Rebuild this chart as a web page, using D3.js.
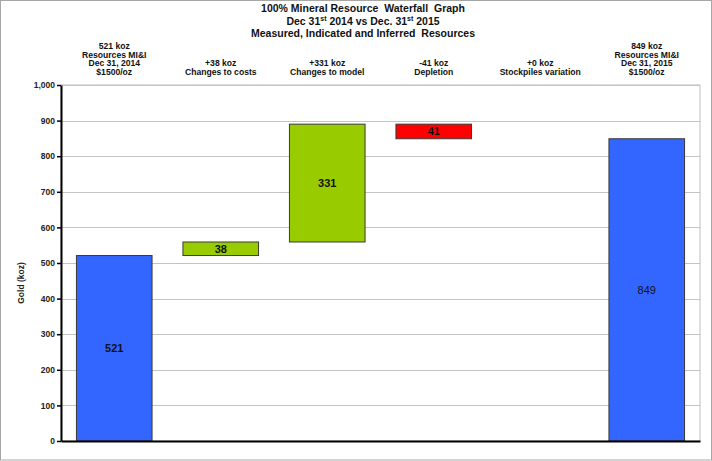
<!DOCTYPE html>
<html><head><meta charset="utf-8">
<script src="https://cdn.jsdelivr.net/npm/d3@7"></script>
<style>
body{margin:0;background:#fff;}
svg{display:block;}
text{font-family:"Liberation Sans",Arial,sans-serif;}
</style></head>
<body>
<svg id="c" width="712" height="461"></svg>
<script>
const titleLines = ["100% Mineral Resource  Waterfall  Graph", "Dec 31st 2014 vs Dec. 31st 2015", "Measured, Indicated and Inferred  Resources"];
const categories = ["start","costs","model","depletion","stockpiles","end"];
const categoryLabels = [
  ["521 koz","Resources MI&I","Dec 31, 2014","$1500/oz"],
  ["+38 koz","Changes to costs"],
  ["+331 koz","Changes to model"],
  ["-41 koz","Depletion"],
  ["+0 koz","Stockpiles variation"],
  ["849 koz","Resources MI&I","Dec 31, 2015","$1500/oz"]
];
const barTypes = ["total","change","change","change","change","total"];
const values = [521, 38, 331, -41, 0, 849];
const yTicks = [0,100,200,300,400,500,600,700,800,900,1000];
const yLabel = "Gold (koz)";

const svg = d3.select("#c");
const W = 712, H = 461;
const m = {left:61, right:700, top:85, bottom:441};

svg.append("rect").attr("x",0.5).attr("y",0.5).attr("width",W-1).attr("height",H-1.5)
  .attr("fill","#fff").attr("stroke","#a6a6a6");

const x = d3.scaleBand().domain(categories).range([m.left, m.right]).paddingInner(0.29).paddingOuter(0.145);
const y = d3.scaleLinear().domain([0,1000]).range([m.bottom, m.top]);

svg.append("rect").attr("x",m.left).attr("y",m.top).attr("width",m.right-m.left).attr("height",m.bottom-m.top)
  .attr("fill","none").attr("stroke","#bfbfbf");

svg.append("g").selectAll("line").data(yTicks.filter(d=>d>0)).join("line")
  .attr("x1",m.left).attr("x2",m.right).attr("y1",d=>Math.round(y(d))+0.5).attr("y2",d=>Math.round(y(d))+0.5)
  .attr("stroke","#c4c4c4").attr("stroke-width",1.2);

let run = 0;
const bars = values.map((v,i)=>{
  let lo, hi;
  if (barTypes[i]==="total"){ lo=0; hi=v; run=v; }
  else { const s=run; run=run+v; lo=Math.min(s,run); hi=Math.max(s,run); }
  return {cat:categories[i], v, lo, hi, type:barTypes[i]};
});
const color = b => b.type==="total" ? "#3366ff" : (b.v>=0 ? "#99cc00" : "#ff0000");

svg.append("g").selectAll("rect").data(bars.filter(b=>b.hi>b.lo)).join("rect")
  .attr("x",b=>x(b.cat)).attr("width",x.bandwidth())
  .attr("y",b=>y(b.hi)).attr("height",b=>y(b.lo)-y(b.hi))
  .attr("fill",color).attr("stroke","#3a3a3a").attr("stroke-width",1);

svg.append("g").selectAll("text").data(bars.filter(b=>b.hi>b.lo)).join("text")
  .attr("x",b=>x(b.cat)+x.bandwidth()/2).attr("y",b=>(y(b.hi)+y(b.lo))/2)
  .attr("dy","0.36em").attr("text-anchor","middle")
  .attr("font-size",11).attr("font-weight",b=>b.cat==="end"?"normal":"bold")
  .attr("fill","#111").text(b=>Math.abs(b.v));

const ya = d3.axisLeft(y).tickValues(yTicks).tickFormat(d3.format(",")).tickSize(4).tickSizeOuter(0);
const gy = svg.append("g").attr("transform",`translate(${m.left},0)`).call(ya);
gy.select(".domain").attr("stroke","#000").attr("stroke-width",2);
gy.selectAll(".tick line").attr("stroke","#000").attr("stroke-width",1.5);
gy.selectAll(".tick text").attr("font-size",8.5).attr("font-weight","bold").attr("fill","#222")
  .attr("font-family","'Liberation Sans',Arial,sans-serif").attr("x",-6);

const xa = d3.axisBottom(x).tickSize(0).tickFormat("");
const gx = svg.append("g").attr("transform",`translate(0,${m.bottom})`).call(xa);
gx.select(".domain").attr("stroke","#000").attr("stroke-width",2);

svg.append("text").attr("transform",`translate(24,283) rotate(-90)`).attr("text-anchor","middle")
  .attr("font-size",8.5).attr("font-weight","bold").attr("fill","#222").text(yLabel);

const tt = svg.append("text").attr("text-anchor","middle").attr("font-weight","bold").attr("font-size",10.5)
  .attr("fill","#111").style("white-space","pre");
tt.append("tspan").attr("x",363).attr("y",12).text(titleLines[0]);
const t2 = tt.append("tspan").attr("x",363).attr("y",24.5);
t2.append("tspan").text("Dec 31");
t2.append("tspan").attr("font-size",7).attr("dy",-3.5).text("st");
t2.append("tspan").attr("dy",3.5).text(" 2014 vs Dec. 31");
t2.append("tspan").attr("font-size",7).attr("dy",-3.5).text("st");
t2.append("tspan").attr("dy",3.5).text(" 2015");
tt.append("tspan").attr("x",363).attr("y",37).text(titleLines[2]);

const lineBase = [49, 57.5, 66, 74.5];
categoryLabels.forEach((lines,i)=>{
  const cx = x(categories[i]) + x.bandwidth()/2;
  const n = lines.length;
  const t = svg.append("text").attr("text-anchor","middle").attr("font-weight","bold")
    .attr("font-size",8.6).attr("fill","#111");
  lines.forEach((l,j)=>{
    t.append("tspan").attr("x",cx).attr("y",lineBase[4-n+j]).text(l);
  });
});
</script>
</body></html>
